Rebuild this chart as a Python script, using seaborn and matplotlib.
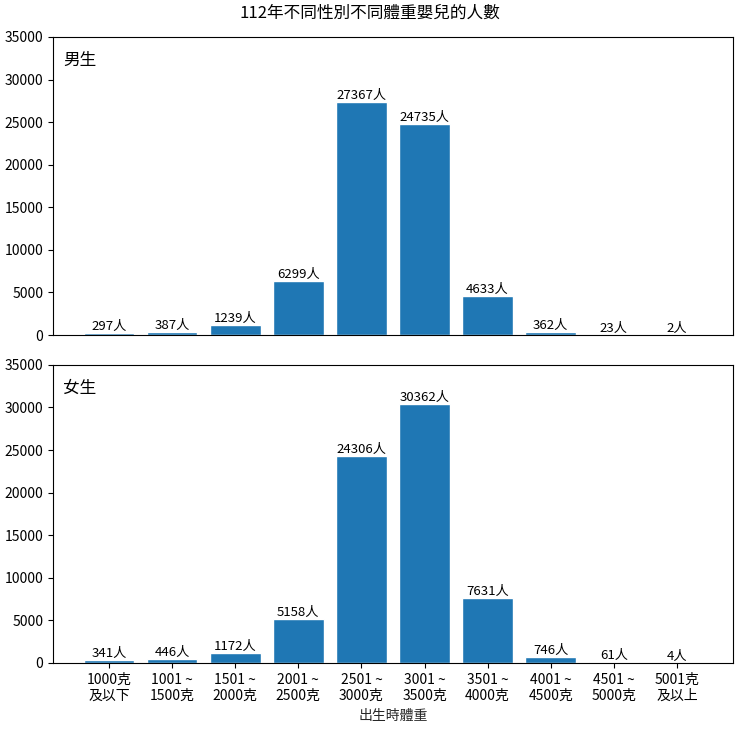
import pandas as pd
import matplotlib
matplotlib.use("Agg")
import matplotlib.pyplot as plt
import seaborn as sns

# 出生體重分組
weight_labels = ["1000克\n及以下", "1001 ~\n1500克", "1501 ~\n2000克", "2001 ~\n2500克",
                 "2501 ~\n3000克", "3001 ~\n3500克", "3501 ~\n4000克", "4001 ~\n4500克",
                 "4501 ~\n5000克", "5001克\n及以上"]
boys = [297, 387, 1239, 6299, 27367, 24735, 4633, 362, 23, 2]
girls = [341, 446, 1172, 5158, 24306, 30362, 7631, 746, 61, 4]

sns.set_style("ticks", {"axes.edgecolor": "black", "xtick.color": "black",
                        "ytick.color": "black", "text.color": "black"})
plt.rcParams['font.family'] = ['Noto Sans CJK TC', 'DejaVu Sans']

fig, axes = plt.subplots(2, 1, figsize=(7.4, 7.32), dpi=100, sharex=True)
fig.subplots_adjust(left=0.0716, right=0.9905, top=0.9495, bottom=0.0943, hspace=0.1)

for ax, values, name in zip(axes, [boys, girls], ["男生", "女生"]):
    df = pd.DataFrame({"weight": weight_labels, "count": values})
    sns.barplot(data=df, x="weight", y="count", color="#1f77b4", saturation=1,
                width=0.8, ax=ax)
    for i, v in enumerate(values):
        ax.text(i, v, f"{v}人", ha="center", va="bottom", fontsize=9.5)
    ax.set_ylim(0, 35000)
    ax.set_xlim(-0.89, 9.89)
    ax.set_ylabel("")
    ax.set_xlabel("")
    ax.text(0.015, 0.95, name, transform=ax.transAxes, ha="left", va="top", fontsize=12)
    ax.tick_params(labelsize=10)

axes[0].tick_params(bottom=False)
axes[1].set_xlabel("出生時體重", fontsize=10)
fig.suptitle("112年不同性別不同體重嬰兒的人數", fontsize=12, y=0.993)

fig.savefig("out.png")
